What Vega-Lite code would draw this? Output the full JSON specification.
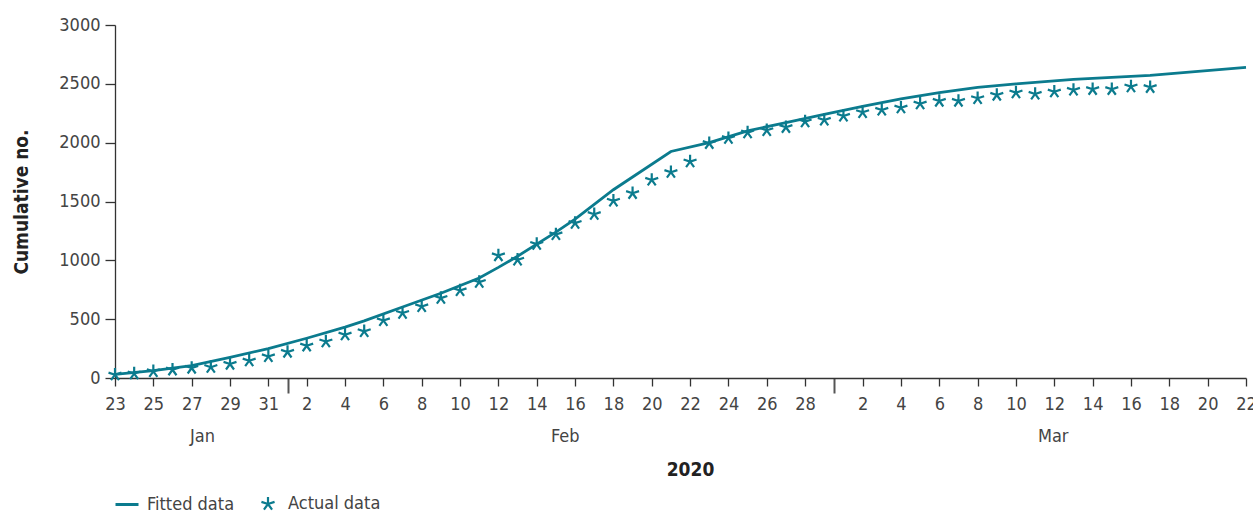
{
  "$schema": "https://vega.github.io/schema/vega-lite/v6.json",
  "width": 1131,
  "height": 353,
  "autosize": "none",
  "padding": {"left": 115, "top": 25, "right": 7, "bottom": 136},
  "background": "white",
  "config": {
    "view": {"stroke": null},
    "font": "DejaVu Sans Condensed, Liberation Sans Narrow, sans-serif"
  },
  "datasets": {
    "fitted": [
      {"date": "2020-01-23", "value": 30, "series": "Fitted data"},
      {"date": "2020-01-25", "value": 62, "series": "Fitted data"},
      {"date": "2020-01-27", "value": 105, "series": "Fitted data"},
      {"date": "2020-01-29", "value": 175, "series": "Fitted data"},
      {"date": "2020-01-31", "value": 250, "series": "Fitted data"},
      {"date": "2020-02-02", "value": 338, "series": "Fitted data"},
      {"date": "2020-02-04", "value": 432, "series": "Fitted data"},
      {"date": "2020-02-05", "value": 485, "series": "Fitted data"},
      {"date": "2020-02-07", "value": 603, "series": "Fitted data"},
      {"date": "2020-02-09", "value": 720, "series": "Fitted data"},
      {"date": "2020-02-11", "value": 850, "series": "Fitted data"},
      {"date": "2020-02-12", "value": 940, "series": "Fitted data"},
      {"date": "2020-02-13", "value": 1035, "series": "Fitted data"},
      {"date": "2020-02-15", "value": 1240, "series": "Fitted data"},
      {"date": "2020-02-16", "value": 1350, "series": "Fitted data"},
      {"date": "2020-02-18", "value": 1600, "series": "Fitted data"},
      {"date": "2020-02-21", "value": 1925, "series": "Fitted data"},
      {"date": "2020-02-23", "value": 2000, "series": "Fitted data"},
      {"date": "2020-02-25", "value": 2100, "series": "Fitted data"},
      {"date": "2020-02-27", "value": 2170, "series": "Fitted data"},
      {"date": "2020-02-29", "value": 2240, "series": "Fitted data"},
      {"date": "2020-03-02", "value": 2308, "series": "Fitted data"},
      {"date": "2020-03-04", "value": 2372, "series": "Fitted data"},
      {"date": "2020-03-06", "value": 2425, "series": "Fitted data"},
      {"date": "2020-03-08", "value": 2470, "series": "Fitted data"},
      {"date": "2020-03-10", "value": 2500, "series": "Fitted data"},
      {"date": "2020-03-13", "value": 2538, "series": "Fitted data"},
      {"date": "2020-03-17", "value": 2572, "series": "Fitted data"},
      {"date": "2020-03-22", "value": 2640, "series": "Fitted data"}
    ],
    "actual": [
      {"date": "2020-01-23", "value": 28, "series": "Actual data"},
      {"date": "2020-01-24", "value": 38, "series": "Actual data"},
      {"date": "2020-01-25", "value": 56, "series": "Actual data"},
      {"date": "2020-01-26", "value": 70, "series": "Actual data"},
      {"date": "2020-01-27", "value": 85, "series": "Actual data"},
      {"date": "2020-01-28", "value": 92, "series": "Actual data"},
      {"date": "2020-01-29", "value": 119, "series": "Actual data"},
      {"date": "2020-01-30", "value": 147, "series": "Actual data"},
      {"date": "2020-01-31", "value": 183, "series": "Actual data"},
      {"date": "2020-02-01", "value": 221, "series": "Actual data"},
      {"date": "2020-02-02", "value": 274, "series": "Actual data"},
      {"date": "2020-02-03", "value": 310, "series": "Actual data"},
      {"date": "2020-02-04", "value": 368, "series": "Actual data"},
      {"date": "2020-02-05", "value": 396, "series": "Actual data"},
      {"date": "2020-02-06", "value": 489, "series": "Actual data"},
      {"date": "2020-02-07", "value": 552, "series": "Actual data"},
      {"date": "2020-02-08", "value": 608, "series": "Actual data"},
      {"date": "2020-02-09", "value": 679, "series": "Actual data"},
      {"date": "2020-02-10", "value": 744, "series": "Actual data"},
      {"date": "2020-02-11", "value": 815, "series": "Actual data"},
      {"date": "2020-02-12", "value": 1041, "series": "Actual data"},
      {"date": "2020-02-13", "value": 1004, "series": "Actual data"},
      {"date": "2020-02-14", "value": 1138, "series": "Actual data"},
      {"date": "2020-02-15", "value": 1220, "series": "Actual data"},
      {"date": "2020-02-16", "value": 1316, "series": "Actual data"},
      {"date": "2020-02-17", "value": 1392, "series": "Actual data"},
      {"date": "2020-02-18", "value": 1505, "series": "Actual data"},
      {"date": "2020-02-19", "value": 1570, "series": "Actual data"},
      {"date": "2020-02-20", "value": 1683, "series": "Actual data"},
      {"date": "2020-02-21", "value": 1749, "series": "Actual data"},
      {"date": "2020-02-22", "value": 1839, "series": "Actual data"},
      {"date": "2020-02-23", "value": 1995, "series": "Actual data"},
      {"date": "2020-02-24", "value": 2038, "series": "Actual data"},
      {"date": "2020-02-25", "value": 2085, "series": "Actual data"},
      {"date": "2020-02-26", "value": 2105, "series": "Actual data"},
      {"date": "2020-02-27", "value": 2131, "series": "Actual data"},
      {"date": "2020-02-28", "value": 2179, "series": "Actual data"},
      {"date": "2020-02-29", "value": 2193, "series": "Actual data"},
      {"date": "2020-03-01", "value": 2227, "series": "Actual data"},
      {"date": "2020-03-02", "value": 2258, "series": "Actual data"},
      {"date": "2020-03-03", "value": 2278, "series": "Actual data"},
      {"date": "2020-03-04", "value": 2297, "series": "Actual data"},
      {"date": "2020-03-05", "value": 2331, "series": "Actual data"},
      {"date": "2020-03-06", "value": 2354, "series": "Actual data"},
      {"date": "2020-03-07", "value": 2354, "series": "Actual data"},
      {"date": "2020-03-08", "value": 2377, "series": "Actual data"},
      {"date": "2020-03-09", "value": 2405, "series": "Actual data"},
      {"date": "2020-03-10", "value": 2425, "series": "Actual data"},
      {"date": "2020-03-11", "value": 2414, "series": "Actual data"},
      {"date": "2020-03-12", "value": 2433, "series": "Actual data"},
      {"date": "2020-03-13", "value": 2448, "series": "Actual data"},
      {"date": "2020-03-14", "value": 2454, "series": "Actual data"},
      {"date": "2020-03-15", "value": 2454, "series": "Actual data"},
      {"date": "2020-03-16", "value": 2476, "series": "Actual data"},
      {"date": "2020-03-17", "value": 2471, "series": "Actual data"}
    ]
  },
  "encoding": {
    "x": {
      "field": "date",
      "type": "temporal",
      "scale": {
        "type": "utc",
        "nice": false,
        "domain": [
          {"year": 2020, "month": 1, "date": 23, "utc": true},
          {"year": 2020, "month": 3, "date": 22, "utc": true}
        ]
      },
      "axis": {
        "title": "2020",
        "titleFontSize": 19,
        "titleFontWeight": "bold",
        "titleColor": "#222222",
        "titlePadding": 15,
        "titleX": 575,
        "grid": false,
        "values": [
          {"year": 2020, "month": 1, "date": 23, "utc": true},
          {"year": 2020, "month": 1, "date": 25, "utc": true},
          {"year": 2020, "month": 1, "date": 27, "utc": true},
          {"year": 2020, "month": 1, "date": 29, "utc": true},
          {"year": 2020, "month": 1, "date": 31, "utc": true},
          {"year": 2020, "month": 2, "date": 2, "utc": true},
          {"year": 2020, "month": 2, "date": 4, "utc": true},
          {"year": 2020, "month": 2, "date": 6, "utc": true},
          {"year": 2020, "month": 2, "date": 8, "utc": true},
          {"year": 2020, "month": 2, "date": 10, "utc": true},
          {"year": 2020, "month": 2, "date": 12, "utc": true},
          {"year": 2020, "month": 2, "date": 14, "utc": true},
          {"year": 2020, "month": 2, "date": 16, "utc": true},
          {"year": 2020, "month": 2, "date": 18, "utc": true},
          {"year": 2020, "month": 2, "date": 20, "utc": true},
          {"year": 2020, "month": 2, "date": 22, "utc": true},
          {"year": 2020, "month": 2, "date": 24, "utc": true},
          {"year": 2020, "month": 2, "date": 26, "utc": true},
          {"year": 2020, "month": 2, "date": 28, "utc": true},
          {"year": 2020, "month": 3, "date": 2, "utc": true},
          {"year": 2020, "month": 3, "date": 4, "utc": true},
          {"year": 2020, "month": 3, "date": 6, "utc": true},
          {"year": 2020, "month": 3, "date": 8, "utc": true},
          {"year": 2020, "month": 3, "date": 10, "utc": true},
          {"year": 2020, "month": 3, "date": 12, "utc": true},
          {"year": 2020, "month": 3, "date": 14, "utc": true},
          {"year": 2020, "month": 3, "date": 16, "utc": true},
          {"year": 2020, "month": 3, "date": 18, "utc": true},
          {"year": 2020, "month": 3, "date": 20, "utc": true},
          {"year": 2020, "month": 3, "date": 22, "utc": true},
          {"year": 2020, "month": 2, "date": 1, "minutes": 2, "utc": true},
          {"year": 2020, "month": 2, "date": 29, "hours": 12, "minutes": 2, "utc": true},
          {"year": 2020, "month": 1, "date": 27, "hours": 13, "minutes": 1, "utc": true},
          {"year": 2020, "month": 2, "date": 15, "hours": 11, "minutes": 1, "utc": true},
          {"year": 2020, "month": 3, "date": 11, "hours": 22, "minutes": 1, "utc": true}
        ],
        "labelExpr": "utcminutes(datum.value) == 1 ? utcFormat(datum.value, '%b') : (utcminutes(datum.value) == 2 ? '' : '' + utcdate(datum.value))",
        "labelOverlap": false,
        "labelFlush": false,
        "labelFontSize": 18,
        "labelColor": "#444444",
        "labelPadding": {"condition": {"test": "utcminutes(datum.value) == 1", "value": 41}, "value": 9},
        "tickSize": {"condition": {"test": "utcminutes(datum.value) == 2", "value": 15}, "value": 8},
        "tickWidth": {"condition": {"test": "utcminutes(datum.value) == 2", "value": 2}, "value": 1.3},
        "tickColor": {"condition": {"test": "utcminutes(datum.value) == 2", "value": "#555555"}, "value": "#333333"},
        "tickOpacity": {"condition": {"test": "utcminutes(datum.value) == 1", "value": 0}, "value": 1},
        "domainColor": "#333333",
        "domainWidth": 1.3
      }
    },
    "y": {
      "field": "value",
      "type": "quantitative",
      "scale": {"domain": [0, 3000], "nice": false},
      "axis": {
        "title": "Cumulative no.",
        "titleFontSize": 19,
        "titleFontWeight": "bold",
        "titleColor": "#222222",
        "titlePadding": 27,
        "grid": false,
        "format": "d",
        "values": [0, 500, 1000, 1500, 2000, 2500, 3000],
        "tickSize": 10,
        "tickColor": "#333333",
        "tickWidth": 1.3,
        "domainColor": "#333333",
        "domainWidth": 1.3,
        "labelPadding": 5,
        "labelFontSize": 18,
        "labelColor": "#444444"
      }
    },
    "color": {
      "field": "series",
      "type": "nominal",
      "scale": {"domain": ["Fitted data", "Actual data"], "range": ["#0b7b8e", "#0b7b8e"]},
      "legend": {
        "title": null,
        "orient": "none",
        "legendX": 3,
        "legendY": 470,
        "direction": "horizontal",
        "padding": 0,
        "symbolSize": 529,
        "symbolType": "stroke",
        "symbolStrokeWidth": 3,
        "labelFontSize": 18,
        "labelColor": "#444444",
        "labelOffset": 11,
        "columnPadding": 22,
        "encode": {
          "symbols": {
            "update": {
              "shape": {"signal": "datum.value === 'Fitted data' ? 'stroke' : 'M0,0L0,-0.6M0,0L0.571,-0.185M0,0L0.353,0.485M0,0L-0.353,0.485M0,0L-0.571,-0.185'"},
              "strokeWidth": {"signal": "datum.value === 'Fitted data' ? 3 : 2.2"},
              "stroke": {"value": "#0b7b8e"},
              "fill": {"value": "transparent"}
            }
          }
        }
      }
    }
  },
  "layer": [
    {
      "data": {"name": "fitted"},
      "mark": {"type": "line", "strokeWidth": 2.8}
    },
    {
      "data": {"name": "actual"},
      "mark": {
        "type": "point",
        "shape": "M0,0L0,-0.6M0,0L0.571,-0.185M0,0L0.353,0.485M0,0L-0.353,0.485M0,0L-0.571,-0.185",
        "size": 515,
        "strokeWidth": 2.2,
        "filled": false,
        "opacity": 1
      }
    }
  ]
}
